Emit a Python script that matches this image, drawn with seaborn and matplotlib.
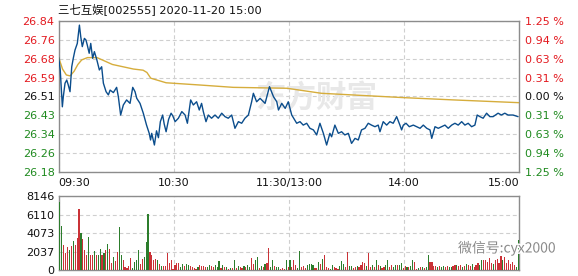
import matplotlib
matplotlib.use("Agg")
import matplotlib.pyplot as plt
import numpy as np
import pandas as pd
import seaborn as sns
import matplotlib.patheffects as pe

# ---------------- data ----------------
title_text = "三七互娱[002555] 2020-11-20 15:00"

price_time = [0.0, 0.8, 1.9, 2.4, 3.3, 4.2, 5.0, 5.9, 6.8, 7.6, 8.5, 9.7, 10.8, 11.5, 12.3, 13.4,
              14.2, 14.9, 15.9, 16.7, 17.7, 18.6, 19.8, 21.2, 22.4, 23.3, 24.7, 25.9, 26.8, 28.5,
              30.2, 31.1, 32.3, 33.7, 35.4, 37.2, 38.6, 39.8, 40.7, 42.4, 44.1, 45.8, 47.2, 47.9,
              48.5, 49.9, 51.0, 52.0, 53.0, 54.2, 55.0, 56.0, 57.3, 58.6, 59.5, 60.7, 62.4, 64.2,
              65.9, 67.1, 68.8, 70.2, 71.9, 73.3, 74.5, 75.4, 76.8, 78.0, 79.7, 81.5, 83.2, 85.0,
              86.7, 88.4, 90.2, 91.9, 93.7, 95.4, 97.1, 98.9, 100.6, 101.5, 103.2, 105.0, 107.6,
              109.9, 112.0, 113.7, 114.6, 116.3, 118.1, 119.7, 121.5, 124.1, 125.8, 127.5, 129.3,
              131.0, 132.8, 134.5, 136.2, 138.0, 139.7, 141.4, 142.3, 144.0, 145.8, 147.5, 149.2,
              151.0, 152.7, 154.5, 156.2, 157.9, 159.7, 161.4, 163.1, 164.9, 166.6, 167.5, 169.2,
              171.0, 172.7, 174.4, 176.2, 177.9, 178.8, 179.7, 181.1, 182.8, 184.9, 186.6, 188.4,
              190.1, 191.9, 193.6, 194.5, 196.2, 197.9, 199.7, 201.4, 203.1, 204.9, 206.6, 208.3,
              210.1, 211.8, 213.5, 215.3, 217.0, 218.2, 219.6, 221.3, 223.1, 224.8, 226.5, 229.1,
              230.8, 232.6, 234.3, 236.9, 239.5]
price = [26.680, 26.626, 26.465, 26.509, 26.568, 26.582, 26.560, 26.531, 26.640, 26.677, 26.713,
         26.742, 26.822, 26.771, 26.728, 26.764, 26.757, 26.735, 26.699, 26.742, 26.677, 26.706,
         26.673, 26.626, 26.640, 26.568, 26.531, 26.517, 26.538, 26.527, 26.550, 26.509, 26.429,
         26.473, 26.495, 26.480, 26.550, 26.531, 26.502, 26.480, 26.437, 26.385, 26.349, 26.320,
         26.349, 26.298, 26.360, 26.330, 26.400, 26.429, 26.390, 26.356, 26.410, 26.437, 26.425,
         26.400, 26.415, 26.444, 26.429, 26.393, 26.495, 26.473, 26.487, 26.451, 26.480, 26.444,
         26.400, 26.429, 26.415, 26.429, 26.415, 26.437, 26.422, 26.415, 26.429, 26.371, 26.400,
         26.393, 26.415, 26.429, 26.487, 26.524, 26.487, 26.502, 26.480, 26.553, 26.509, 26.487,
         26.451, 26.480, 26.458, 26.487, 26.429, 26.393, 26.400, 26.385, 26.393, 26.371, 26.364,
         26.342, 26.393, 26.349, 26.298, 26.349, 26.334, 26.385, 26.349, 26.356, 26.342, 26.349,
         26.305, 26.327, 26.320, 26.364, 26.371, 26.393, 26.385, 26.378, 26.385, 26.356, 26.400,
         26.385, 26.400, 26.393, 26.422, 26.385, 26.364, 26.385, 26.393, 26.378, 26.385, 26.378,
         26.371, 26.385, 26.371, 26.364, 26.327, 26.378, 26.371, 26.378, 26.385, 26.371, 26.385,
         26.393, 26.385, 26.400, 26.385, 26.393, 26.378, 26.385, 26.429, 26.422, 26.415, 26.437,
         26.422, 26.422, 26.437, 26.429, 26.437, 26.429, 26.429, 26.422]

avg_time = [0, 2, 4, 6, 8, 10, 12, 15, 20, 28, 39, 44, 46, 48, 56, 74, 91, 119, 137, 180, 206, 240]
avg_price = [26.680, 26.630, 26.604, 26.600, 26.620, 26.650, 26.670, 26.680, 26.680, 26.650,
             26.630, 26.625, 26.615, 26.590, 26.570, 26.560, 26.550, 26.546, 26.524, 26.505,
             26.495, 26.483]

volume = [
    7500, 4900, 2800, 1850, 2550, 2200, 2700, 3200, 2800, 3550, 6800, 4150, 3400, 2200, 1650, 3650, 1700, 1700, 2100, 1650,
    1700, 2300, 1700, 1850, 2200, 2900, 2300, 850, 1450, 1050, 2000, 4750, 1650, 1100, 380, 250, 480, 1350, 260, 900,
    1100, 2200, 730, 1280, 1450, 3100, 6200, 2000, 1650, 1100, 1280, 1100, 730, 480, 480, 480, 1900, 850, 1100, 180,
    550, 800, 800, 370, 730, 480, 730, 620, 480, 370, 260, 180, 370, 620, 480, 480, 370, 370, 550, 480,
    370, 620, 370, 990, 260, 620, 370, 370, 180, 260, 260, 1100, 260, 480, 370, 260, 480, 370, 550, 370,
    1350, 730, 1100, 1470, 260, 480, 370, 730, 850, 2450, 370, 1100, 480, 370, 370, 180, 260, 180, 1100, 370,
    1100, 370, 1100, 620, 260, 2100, 370, 480, 260, 620, 730, 730, 620, 260, 260, 920, 730, 1280, 1650, 370,
    260, 180, 620, 370, 260, 180, 480, 990, 730, 370, 2020, 480, 480, 260, 370, 480, 370, 620, 920, 800,
    480, 1850, 370, 620, 370, 1100, 620, 480, 260, 370, 620, 1100, 370, 620, 370, 620, 550, 620, 850, 260,
    480, 370, 370, 480, 1100, 920, 180, 260, 370, 370, 260, 370, 1650, 920, 920, 480, 480, 370, 480, 370,
    480, 370, 480, 370, 370, 480, 620, 620, 480, 620, 370, 480, 730, 620, 480, 730, 370, 620, 850, 620,
    1100, 1100, 1100, 920, 1350, 850, 730, 1100, 1280, 850, 1580, 1100, 1470, 850, 1100, 730, 920, 620, 370, 3300,
]
volume_dir = list(
    "ggrrrgrgrrrgrrrgrrgr" "ggrgrgrrgrrggrrrrrgg" "ggrrgggrrrrgrgrrrrrr" "rrrggrggrrrrgrrrrggr"
    "rgggrgrgrg" "rgrgrrgrgg" "rrggrgrgrr" "ggrggrrrgr" "grrrggrrrg" "gggrrgrgrr" "rggrrrgggr" "rggrrgrrrr"
    "grrgrgrgrr" "ggrrggrggr" "rgrggrrgrg" "rggrrrrgrg" "grrggrrgrr" "grgrrgrrrg" "grrrrrgrrr" "rgrrrrrrgg"
)
volume_minute = list(np.arange(len(volume)) + 0.6)

price_ticks = [26.18, 26.2625, 26.345, 26.4275, 26.51, 26.5925, 26.675, 26.7575, 26.84]
price_tick_labels = ["26.18", "26.26", "26.34", "26.43", "26.51", "26.59", "26.68", "26.76", "26.84"]
pct_tick_labels = ["1.25 %", "0.94 %", "0.63 %", "0.31 %", "0.00 %", "0.31 %", "0.63 %", "0.94 %", "1.25 %"]
time_ticks = [0, 60, 120, 180, 240]
time_labels = ["09:30", "10:30", "11:30/13:00", "14:00", "15:00"]
vol_ticks = [0, 2037, 4073, 6110, 8146]
vol_tick_labels = ["0", "2037", "4073", "6110", "8146"]

# ---------------- style ----------------
sns.set_style("white")
plt.rcParams["font.family"] = ["DejaVu Sans", "Noto Sans CJK SC"]

RED = "#e3191f"
GREEN = "#1f8a1f"
BLACK = "#111111"
GRID = "#cfcfcf"
SPINE = "#8c8c8c"
label_colors = [GREEN] * 4 + [BLACK] + [RED] * 4

W, H = 578, 276
fig = plt.figure(figsize=(W / 100, H / 100), dpi=100)


def rect(l, t, r, b):
    return [l / W, 1 - b / H, (r - l) / W, (b - t) / H]


axp = fig.add_axes(rect(58.7, 21, 519, 172))
axv = fig.add_axes(rect(58.7, 196.3, 519, 270.3))

# price panel
pdf = pd.DataFrame({"t": price_time, "p": price})
adf = pd.DataFrame({"t": avg_time, "p": avg_price})
sns.lineplot(data=adf, x="t", y="p", ax=axp, color="#d6ad3c", lw=1.0, estimator=None, sort=False, zorder=3)
sns.lineplot(data=pdf, x="t", y="p", ax=axp, color="#0b4d8c", lw=1.0, estimator=None, sort=False, zorder=4)
axp.set_xlim(0, 240)
axp.set_ylim(26.18, 26.84)
axp.set_yticks(price_ticks)
axp.set_yticklabels(price_tick_labels, fontsize=8)
for lab, c in zip(axp.get_yticklabels(), label_colors):
    lab.set_color(c)
axp.set_xticks(time_ticks)
axp.set_xticklabels(time_labels, fontsize=8, color=BLACK)
xl = axp.get_xticklabels()
xl[0].set_ha("left")
xl[-1].set_ha("right")
axp.tick_params(axis="both", length=0, pad=3)
axp.tick_params(axis="x", pad=4)
axp.set_xlabel("")
axp.set_ylabel("")
axp.grid(True, ls=(0, (3.5, 2.5)), color=GRID, lw=0.8)
for s in axp.spines.values():
    s.set_color(SPINE)
    s.set_linewidth(1.0)

axr = axp.twinx()
axr.set_ylim(26.18, 26.84)
axr.set_yticks(price_ticks)
axr.set_yticklabels(pct_tick_labels, fontsize=8)
for lab, c in zip(axr.get_yticklabels(), label_colors):
    lab.set_color(c)
axr.tick_params(axis="y", length=0, pad=4)
for s in axr.spines.values():
    s.set_visible(False)

# watermark
axp.text(0.56, 0.49, "东方财富", transform=axp.transAxes, fontsize=22, fontweight="bold",
         color="#e8e8e8", ha="center", va="center", family=["Noto Sans CJK SC"], zorder=1)

# volume panel
vdf = pd.DataFrame({"t": volume_minute, "v": volume, "d": volume_dir})
sns.barplot(data=vdf, x="t", y="v", hue="d", palette={"r": RED, "g": GREEN}, native_scale=True,
            dodge=False, errorbar=None, width=0.6, legend=False, ax=axv, linewidth=0, zorder=3)
axv.set_xlim(0, 240)
axv.set_ylim(0, 8146)
axv.set_yticks(vol_ticks)
axv.set_yticklabels(vol_tick_labels, fontsize=8, color=BLACK)
axv.set_xticks(time_ticks)
axv.set_xticklabels([])
axv.tick_params(axis="both", length=0, pad=3)
axv.set_xlabel("")
axv.set_ylabel("")
axv.grid(True, ls=(0, (3.5, 2.5)), color=GRID, lw=0.8)
axv.set_axisbelow(True)
for s in axv.spines.values():
    s.set_color(SPINE)
    s.set_linewidth(1.0)

# title
fig.text(58 / W, 1 - 9 / H, title_text, fontsize=8.2, color=BLACK, ha="left", va="center")

# wechat watermark
fig.text(458 / W, 1 - 248 / H, "微信号:cyx2000", fontsize=10, color="#8a8a8a", ha="left", va="center",
         family=["Noto Sans CJK SC", "DejaVu Sans"], zorder=10,
         path_effects=[pe.withStroke(linewidth=2, foreground="white")])

fig.savefig("out.png", dpi=100)
